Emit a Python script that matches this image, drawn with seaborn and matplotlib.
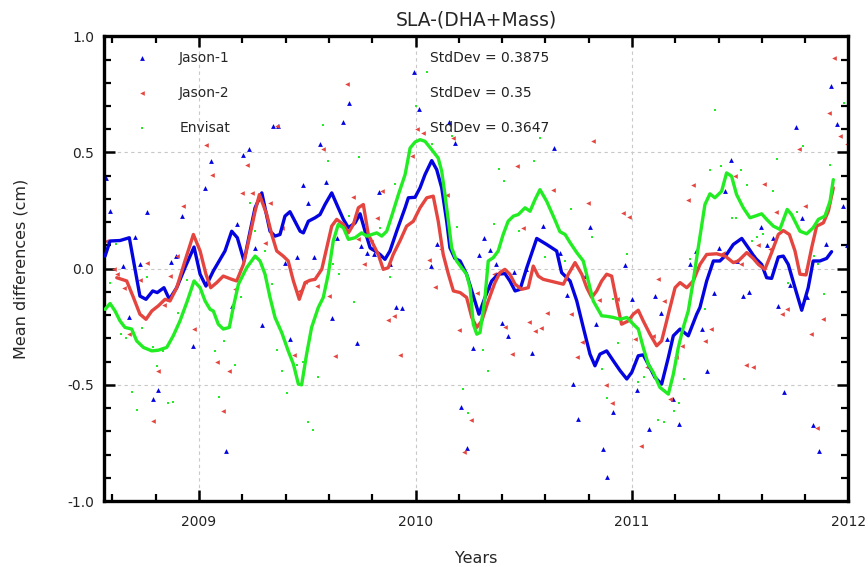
import numpy as np
import seaborn as sns
import matplotlib
matplotlib.use("Agg")
import matplotlib.pyplot as plt
from matplotlib.ticker import MultipleLocator

# ---- smoothed curves (year, cm) ----
j1_line_year = [2008.566, 2008.589, 2008.635, 2008.678, 2008.727, 2008.755, 2008.786, 2008.807, 2008.838, 2008.863,
                2008.897, 2008.935, 2008.977, 2009.005, 2009.032, 2009.066, 2009.120, 2009.151, 2009.177, 2009.208,
                2009.236, 2009.259, 2009.290, 2009.328, 2009.351, 2009.374, 2009.397, 2009.420, 2009.443, 2009.467,
                2009.482, 2009.505, 2009.536, 2009.559, 2009.582, 2009.613, 2009.643, 2009.667, 2009.690, 2009.721,
                2009.744, 2009.767, 2009.790, 2009.813, 2009.836, 2009.859, 2009.882, 2009.913, 2009.952, 2009.967,
                2009.998, 2010.021, 2010.044, 2010.075, 2010.098, 2010.121, 2010.144, 2010.159, 2010.182, 2010.206,
                2010.236, 2010.260, 2010.293, 2010.321, 2010.352, 2010.382, 2010.413, 2010.436, 2010.460, 2010.483,
                2010.514, 2010.560, 2010.606, 2010.652, 2010.675, 2010.714, 2010.745, 2010.775, 2010.806, 2010.829,
                2010.852, 2010.883, 2010.914, 2010.945, 2010.976, 2010.999, 2011.029, 2011.052, 2011.075, 2011.106,
                2011.137, 2011.168, 2011.191, 2011.222, 2011.260, 2011.299, 2011.314, 2011.345, 2011.376, 2011.406,
                2011.437, 2011.468, 2011.507, 2011.537, 2011.568, 2011.599, 2011.622, 2011.645, 2011.676, 2011.699,
                2011.722, 2011.753, 2011.784, 2011.814, 2011.837, 2011.868, 2011.899, 2011.922]
j1_line_val = [0.054, 0.119, 0.121, 0.133, -0.118, -0.132, -0.096, -0.103, -0.082, -0.132,
               -0.082, 0.004, 0.093, -0.024, -0.075, -0.010, 0.076, 0.161, 0.133, 0.033,
               0.161, 0.262, 0.326, 0.161, 0.140, 0.147, 0.226, 0.245, 0.204, 0.161,
               0.154, 0.204, 0.219, 0.233, 0.276, 0.326, 0.262, 0.212, 0.176, 0.197,
               0.236, 0.161, 0.090, 0.076, 0.061, 0.040, 0.076, 0.161, 0.262, 0.305,
               0.307, 0.348, 0.405, 0.465, 0.426, 0.348, 0.204, 0.090, 0.044, 0.033,
               -0.024, -0.096, -0.196, -0.124, -0.053, -0.024, -0.021, -0.053, -0.096, -0.089,
               0.004, 0.130, 0.104, 0.076, -0.017, -0.053, -0.139, -0.253, -0.368, -0.418,
               -0.368, -0.354, -0.397, -0.439, -0.475, -0.446, -0.375, -0.371, -0.411, -0.468,
               -0.497, -0.382, -0.289, -0.260, -0.289, -0.196, -0.167, -0.053, 0.033, 0.033,
               0.061, 0.104, 0.130, 0.090, 0.047, 0.018, -0.039, -0.042, 0.050, 0.054,
               0.018, -0.082, -0.179, -0.082, 0.033, 0.033, 0.044, 0.073]

j2_line_year = [2008.620, 2008.666, 2008.697, 2008.727, 2008.755, 2008.782, 2008.812, 2008.843, 2008.866, 2008.897,
                2008.935, 2008.974, 2009.005, 2009.032, 2009.054, 2009.082, 2009.112, 2009.151, 2009.174, 2009.205,
                2009.236, 2009.259, 2009.279, 2009.313, 2009.336, 2009.359, 2009.389, 2009.412, 2009.436, 2009.463,
                2009.490, 2009.513, 2009.536, 2009.567, 2009.590, 2009.613, 2009.636, 2009.667, 2009.690, 2009.713,
                2009.736, 2009.759, 2009.782, 2009.805, 2009.828, 2009.851, 2009.874, 2009.897, 2009.928, 2009.959,
                2009.990, 2010.021, 2010.052, 2010.082, 2010.105, 2010.128, 2010.152, 2010.175, 2010.206, 2010.236,
                2010.260, 2010.283, 2010.306, 2010.336, 2010.367, 2010.390, 2010.413, 2010.436, 2010.460, 2010.490,
                2010.521, 2010.544, 2010.567, 2010.590, 2010.621, 2010.652, 2010.683, 2010.706, 2010.737, 2010.768,
                2010.791, 2010.814, 2010.837, 2010.860, 2010.883, 2010.906, 2010.929, 2010.952, 2010.983, 2011.006,
                2011.029, 2011.052, 2011.083, 2011.114, 2011.137, 2011.168, 2011.199, 2011.222, 2011.253, 2011.283,
                2011.314, 2011.345, 2011.391, 2011.430, 2011.468, 2011.491, 2011.530, 2011.560, 2011.584, 2011.614,
                2011.645, 2011.676, 2011.699, 2011.727, 2011.753, 2011.776, 2011.804, 2011.830, 2011.853, 2011.884,
                2011.907, 2011.930]
j2_line_val = [-0.039, -0.053, -0.124, -0.196, -0.218, -0.182, -0.160, -0.132, -0.139, -0.082,
               0.033, 0.147, 0.076, -0.024, -0.082, -0.060, -0.032, -0.046, -0.053, 0.018,
               0.147, 0.247, 0.319, 0.233, 0.147, 0.076, 0.054, 0.033, -0.053, -0.132,
               -0.060, -0.050, -0.046, -0.003, 0.090, 0.183, 0.212, 0.190, 0.154, 0.190,
               0.262, 0.276, 0.147, 0.104, 0.061, -0.003, 0.004, 0.061, 0.119, 0.183,
               0.204, 0.262, 0.305, 0.312, 0.204, 0.061, -0.024, -0.096, -0.103, -0.124,
               -0.210, -0.253, -0.225, -0.139, -0.060, -0.017, -0.003, -0.024, -0.067, -0.089,
               -0.082, 0.011, -0.032, -0.046, -0.053, -0.060, -0.067, -0.024, 0.026, -0.024,
               -0.082, -0.124, -0.096, -0.053, -0.024, -0.032, -0.139, -0.239, -0.225, -0.196,
               -0.179, -0.225, -0.282, -0.332, -0.311, -0.196, -0.082, -0.060, -0.082, -0.053,
               0.018, 0.061, 0.064, 0.054, 0.026, 0.033, 0.069, 0.044, 0.018, -0.003,
               0.069, 0.147, 0.164, 0.147, 0.076, -0.024, -0.027, 0.090, 0.183, 0.197,
               0.247, 0.348]

env_line_year = [2008.566, 2008.589, 2008.612, 2008.635, 2008.658, 2008.689, 2008.712, 2008.743, 2008.782, 2008.812,
                 2008.851, 2008.881, 2008.912, 2008.946, 2008.977, 2009.005, 2009.028, 2009.051, 2009.066, 2009.089,
                 2009.112, 2009.140, 2009.158, 2009.182, 2009.220, 2009.259, 2009.282, 2009.305, 2009.328, 2009.351,
                 2009.382, 2009.412, 2009.436, 2009.459, 2009.474, 2009.497, 2009.520, 2009.551, 2009.574, 2009.597,
                 2009.620, 2009.643, 2009.667, 2009.690, 2009.721, 2009.751, 2009.775, 2009.798, 2009.821, 2009.844,
                 2009.867, 2009.890, 2009.921, 2009.952, 2009.975, 2009.998, 2010.021, 2010.044, 2010.075, 2010.105,
                 2010.121, 2010.136, 2010.152, 2010.167, 2010.190, 2010.213, 2010.236, 2010.252, 2010.267, 2010.283,
                 2010.298, 2010.321, 2010.336, 2010.359, 2010.382, 2010.405, 2010.428, 2010.452, 2010.475, 2010.506,
                 2010.529, 2010.552, 2010.575, 2010.606, 2010.644, 2010.667, 2010.691, 2010.714, 2010.745, 2010.775,
                 2010.798, 2010.821, 2010.860, 2010.883, 2010.914, 2010.945, 2010.976, 2011.006, 2011.029, 2011.052,
                 2011.075, 2011.098, 2011.129, 2011.168, 2011.191, 2011.214, 2011.237, 2011.260, 2011.283, 2011.306,
                 2011.337, 2011.360, 2011.383, 2011.414, 2011.437, 2011.460, 2011.483, 2011.514, 2011.545, 2011.568,
                 2011.599, 2011.622, 2011.653, 2011.683, 2011.717, 2011.737, 2011.776, 2011.807, 2011.837, 2011.861,
                 2011.891, 2011.915, 2011.930]
env_line_val = [-0.175, -0.150, -0.182, -0.225, -0.253, -0.260, -0.311, -0.339, -0.354, -0.351,
                -0.339, -0.289, -0.225, -0.139, -0.053, -0.082, -0.139, -0.175, -0.182, -0.239,
                -0.260, -0.253, -0.167, -0.067, 0.004, 0.054, 0.033, -0.024, -0.124, -0.210,
                -0.275, -0.354, -0.411, -0.497, -0.500, -0.368, -0.253, -0.167, -0.124, -0.024,
                0.119, 0.190, 0.176, 0.126, 0.133, 0.154, 0.140, 0.147, 0.154, 0.140,
                0.161, 0.226, 0.319, 0.405, 0.519, 0.545, 0.555, 0.548, 0.512, 0.476,
                0.419, 0.319, 0.204, 0.090, 0.033, 0.004, -0.024, -0.082, -0.239, -0.282,
                -0.275, -0.124, 0.033, 0.047, 0.076, 0.147, 0.204, 0.226, 0.233, 0.262,
                0.247, 0.297, 0.340, 0.290, 0.210, 0.159, 0.147, 0.112, 0.069, 0.033,
                -0.053, -0.139, -0.203, -0.205, -0.210, -0.218, -0.210, -0.239, -0.260, -0.339,
                -0.411, -0.446, -0.511, -0.540, -0.454, -0.339, -0.253, -0.182, -0.053, 0.090,
                0.276, 0.322, 0.305, 0.333, 0.412, 0.398, 0.319, 0.262, 0.219, 0.226,
                0.236, 0.212, 0.183, 0.169, 0.255, 0.233, 0.161, 0.150, 0.176, 0.212,
                0.226, 0.290, 0.383]

# ---- individual cycle differences ----
j1_pt_year = [2008.571, 2008.589, 2008.651, 2008.678, 2008.705, 2008.728, 2008.759, 2008.786, 2008.812, 2008.869,
              2008.894, 2008.920, 2008.974, 2009.028, 2009.056, 2009.125, 2009.151, 2009.177, 2009.205, 2009.233,
              2009.259, 2009.289, 2009.343, 2009.366, 2009.397, 2009.420, 2009.451, 2009.479, 2009.505, 2009.533,
              2009.559, 2009.587, 2009.613, 2009.639, 2009.667, 2009.693, 2009.731, 2009.748, 2009.778, 2009.808,
              2009.831, 2009.882, 2009.910, 2009.936, 2009.993, 2010.018, 2010.072, 2010.101, 2010.156, 2010.182,
              2010.210, 2010.236, 2010.264, 2010.295, 2010.318, 2010.344, 2010.372, 2010.398, 2010.429, 2010.455,
              2010.510, 2010.537, 2010.587, 2010.640, 2010.667, 2010.698, 2010.729, 2010.752, 2010.783, 2010.806,
              2010.834, 2010.864, 2010.886, 2010.914, 2010.968, 2010.998, 2011.025, 2011.080, 2011.106, 2011.134,
              2011.160, 2011.188, 2011.216, 2011.268, 2011.296, 2011.322, 2011.348, 2011.379, 2011.403, 2011.430,
              2011.456, 2011.487, 2011.514, 2011.539, 2011.568, 2011.596, 2011.622, 2011.650, 2011.676, 2011.702,
              2011.730, 2011.756, 2011.784, 2011.810, 2011.838, 2011.865, 2011.896, 2011.918, 2011.945, 2011.973,
              2011.995]
j1_pt_val = [0.388, 0.247, 0.011, -0.210, 0.136, 0.018, 0.244, -0.561, -0.522, 0.030,
             0.054, 0.226, -0.335, 0.345, 0.465, -0.783, -0.160, 0.193, 0.491, 0.516,
             0.090, -0.242, 0.612, 0.612, 0.026, -0.303, 0.050, 0.359, 0.283, 0.050,
             0.536, 0.373, -0.213, 0.130, 0.631, 0.712, -0.322, 0.097, 0.069, 0.064,
             0.330, 0.018, -0.167, -0.170, 0.848, 0.688, 0.011, 0.107, 0.631, 0.541,
             -0.597, -0.773, -0.343, 0.058, 0.130, 0.079, 0.021, -0.236, -0.289, -0.014,
             -0.003, -0.365, 0.183, 0.519, 0.069, -0.113, -0.496, -0.647, -0.032, 0.179,
             -0.239, -0.775, -0.897, -0.618, 0.016, -0.132, -0.522, -0.690, -0.117, -0.189,
             -0.303, -0.561, -0.668, 0.018, 0.076, -0.261, -0.442, -0.103, 0.090, 0.333,
             0.469, 0.033, -0.117, -0.099, 0.050, 0.179, 0.101, 0.130, -0.160, -0.532,
             -0.070, 0.608, 0.216, -0.122, -0.671, -0.783, 0.107, 0.784, 0.622, 0.269,
             0.101]

j2_pt_year = [2008.571, 2008.605, 2008.623, 2008.654, 2008.678, 2008.728, 2008.759, 2008.789, 2008.812, 2008.839,
              2008.866, 2008.897, 2008.925, 2008.977, 2009.033, 2009.059, 2009.085, 2009.113, 2009.140, 2009.167,
              2009.197, 2009.220, 2009.247, 2009.305, 2009.328, 2009.359, 2009.382, 2009.440, 2009.463, 2009.490,
              2009.544, 2009.574, 2009.602, 2009.628, 2009.682, 2009.710, 2009.736, 2009.764, 2009.793, 2009.821,
              2009.847, 2009.875, 2009.901, 2009.928, 2009.982, 2010.008, 2010.033, 2010.064, 2010.090, 2010.116,
              2010.144, 2010.172, 2010.199, 2010.226, 2010.255, 2010.283, 2010.337, 2010.364, 2010.413, 2010.446,
              2010.470, 2010.498, 2010.524, 2010.552, 2010.578, 2010.606, 2010.634, 2010.717, 2010.744, 2010.768,
              2010.795, 2010.821, 2010.849, 2010.880, 2010.906, 2010.929, 2010.960, 2010.988, 2011.014, 2011.040,
              2011.068, 2011.095, 2011.122, 2011.148, 2011.175, 2011.203, 2011.229, 2011.257, 2011.283, 2011.337,
              2011.365, 2011.419, 2011.476, 2011.502, 2011.527, 2011.557, 2011.584, 2011.610, 2011.638, 2011.665,
              2011.691, 2011.717, 2011.773, 2011.799, 2011.827, 2011.856, 2011.881, 2011.910, 2011.935, 2011.961,
              2011.992]
j2_pt_val = [0.119, -0.003, -0.024, -0.085, -0.282, -0.050, 0.026, -0.654, -0.439, -0.156,
             -0.032, 0.054, 0.269, -0.260, 0.534, 0.405, -0.403, -0.611, -0.442, -0.089,
             0.326, 0.445, 0.326, 0.111, 0.283, 0.612, 0.176, -0.371, -0.096, -0.056,
             -0.074, 0.516, -0.117, -0.375, 0.794, 0.309, 0.126, 0.021, 0.083, 0.216,
             0.333, -0.220, -0.203, -0.371, 0.483, 0.602, 0.584, 0.036, -0.079, 0.083,
             0.316, 0.562, -0.265, -0.790, -0.651, -0.103, -0.082, -0.024, -0.253, -0.368,
             0.441, 0.173, -0.228, -0.268, -0.256, -0.193, 0.337, -0.196, -0.382, -0.314,
             0.283, 0.551, -0.136, -0.499, -0.580, -0.132, 0.240, 0.222, -0.303, -0.765,
             -0.425, -0.289, -0.046, -0.139, -0.561, -0.382, -0.332, 0.295, 0.362, -0.310,
             -0.260, 0.068, 0.398, 0.021, -0.414, -0.422, 0.101, 0.365, 0.083, 0.245,
             -0.196, -0.175, 0.515, 0.269, -0.282, -0.687, -0.215, 0.672, 0.908, 0.569,
             0.536]

env_pt_year = [2008.589, 2008.617, 2008.639, 2008.663, 2008.689, 2008.712, 2008.735, 2008.762, 2008.786, 2008.808,
               2008.832, 2008.859, 2008.879, 2008.905, 2008.946, 2009.074, 2009.094, 2009.116, 2009.167, 2009.193,
               2009.236, 2009.259, 2009.305, 2009.336, 2009.359, 2009.382, 2009.405, 2009.451, 2009.479, 2009.502,
               2009.525, 2009.551, 2009.571, 2009.598, 2009.620, 2009.648, 2009.693, 2009.716, 2009.741, 2009.805,
               2009.836, 2009.882, 2009.905, 2010.002, 2010.051, 2010.075, 2010.167, 2010.193, 2010.221, 2010.244,
               2010.313, 2010.336, 2010.363, 2010.387, 2010.409, 2010.480, 2010.549, 2010.575, 2010.598, 2010.690,
               2010.717, 2010.814, 2010.860, 2010.886, 2010.914, 2010.937, 2010.978, 2011.029, 2011.056, 2011.122,
               2011.148, 2011.172, 2011.194, 2011.219, 2011.240, 2011.268, 2011.337, 2011.360, 2011.383, 2011.410,
               2011.460, 2011.480, 2011.502, 2011.530, 2011.553, 2011.576, 2011.604, 2011.650, 2011.671, 2011.722,
               2011.764, 2011.791, 2011.841, 2011.861, 2011.887, 2011.915, 2011.979, 2011.999]
env_pt_val = [-0.060, 0.107, -0.282, -0.299, -0.532, -0.607, -0.256, -0.036, -0.339, -0.421,
              -0.356, -0.577, -0.572, -0.192, -0.050, -0.353, -0.554, -0.310, -0.414, -0.122,
              0.283, 0.162, 0.076, -0.064, -0.350, -0.442, -0.537, -0.414, -0.403, -0.661,
              -0.694, -0.468, 0.619, 0.462, 0.021, -0.022, 0.226, -0.142, 0.479, 0.119,
              0.173, -0.036, 0.365, 0.701, 0.845, 0.536, 0.569, 0.179, -0.518, -0.622,
              -0.351, -0.439, 0.193, 0.430, 0.376, 0.164, 0.465, 0.562, 0.050, 0.033,
              0.255, 0.136, -0.432, -0.557, -0.132, -0.318, 0.064, -0.489, -0.468, -0.651,
              -0.661, -0.522, -0.611, -0.580, -0.475, 0.040, -0.175, 0.426, 0.684, 0.441,
              0.219, 0.219, 0.426, 0.362, 0.119, 0.136, 0.150, 0.336, 0.473, -0.060,
              0.245, 0.526, 0.054, 0.018, -0.110, 0.445, 0.712, 0.684]

mission_names = ["Jason-1", "Jason-2", "Envisat"]
std_devs = ["0.3875", "0.35", "0.3647"]

blue = "#0404e0"
red = "#e5453f"
green = "#22ec22"

sns.set_style("white")
plt.rcParams["axes.unicode_minus"] = False
plt.rcParams["font.family"] = ["DejaVu Sans"]

fig = plt.figure(figsize=(8.68, 5.67), dpi=100)
ax = fig.add_axes([0.1198, 0.1164, 0.8577, 0.8196])

# scatter of single cycles
sns.scatterplot(x=j1_pt_year, y=j1_pt_val, ax=ax, marker="^", s=12, color=blue,
                linewidth=0, label=mission_names[0], zorder=2)
sns.scatterplot(x=j2_pt_year, y=j2_pt_val, ax=ax, marker="<", s=11, color=red,
                linewidth=0, label=mission_names[1], zorder=2)
sns.scatterplot(x=env_pt_year, y=env_pt_val, ax=ax, marker="s", s=3, color=green,
                linewidth=0, label=mission_names[2], zorder=2)

# smoothed curves
sns.lineplot(x=j1_line_year, y=j1_line_val, ax=ax, color=blue, linewidth=2.4,
             estimator=None, sort=False, legend=False, zorder=3)
sns.lineplot(x=j2_line_year, y=j2_line_val, ax=ax, color=red, linewidth=2.4,
             estimator=None, sort=False, legend=False, zorder=3)
sns.lineplot(x=env_line_year, y=env_line_val, ax=ax, color=green, linewidth=2.4,
             estimator=None, sort=False, legend=False, zorder=3)

ax.set_xlim(2008.561, 2012.0)
ax.set_ylim(-1.0, 1.0)
ax.xaxis.set_minor_locator(MultipleLocator(0.2))
ax.yaxis.set_minor_locator(MultipleLocator(0.1))
ax.set_xticks([2009, 2010, 2011, 2012])
ax.set_xticklabels(["2009", "2010", "2011", "2012"])
ax.set_yticks([-1.0, -0.5, 0.0, 0.5, 1.0])
ax.set_yticklabels(["-1.0", "-0.5", "0.0", "0.5", "1.0"])

ax.grid(True, which="major", linestyle=(0, (3, 3)), color="#c8c8c8", linewidth=0.8)
ax.set_axisbelow(True)

for sp in ax.spines.values():
    sp.set_linewidth(2.4)
    sp.set_color("black")
ax.tick_params(which="both", direction="in", top=True, right=True, bottom=True, left=True,
               color="black", labelsize=10, labelcolor="#222222")
ax.tick_params(which="major", length=8, width=1.8)
ax.tick_params(which="minor", length=5, width=1.6)
ax.tick_params(axis="x", which="major", pad=10)
ax.tick_params(axis="y", which="major", pad=7)

ax.set_title("SLA-(DHA+Mass)", fontsize=13.5, pad=8)
ax.set_xlabel("Years", fontsize=11.5, labelpad=16)
ax.set_ylabel("Mean differences (cm)", fontsize=11.5, labelpad=28)

leg = ax.legend(loc="upper left", bbox_to_anchor=(0.0, 1.0), frameon=False, fontsize=10,
                labelspacing=1.52, handlelength=3.4, handletextpad=0.96,
                borderaxespad=0.5, borderpad=0.55, scatterpoints=1)

row_y = [0.953, 0.878, 0.803]
for yy, sd in zip(row_y, std_devs):
    ax.text(0.438, yy, "StdDev = " + sd, transform=ax.transAxes, fontsize=10,
            va="center", ha="left", color="#222222")

fig.savefig("out.png", dpi=100)
